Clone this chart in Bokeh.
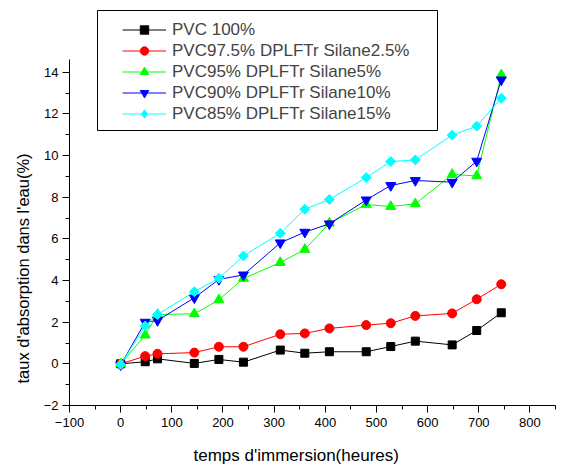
import numpy as np
from bokeh.plotting import figure
from bokeh.models import (Range1d, FixedTicker, Legend, LegendItem, BoxAnnotation, Title,
                          LinearAxis)
from bokeh.embed import file_html
from bokeh.resources import INLINE

hours = [0, 48, 72, 144, 192, 240, 312, 360, 408, 480, 528, 576, 648, 696, 744]
pvc100 = [0, 0.10, 0.24, 0.02, 0.21, 0.08, 0.66, 0.51, 0.58, 0.58, 0.83, 1.09, 0.91, 1.60, 2.45]
silane2_5 = [0, 0.37, 0.48, 0.54, 0.82, 0.82, 1.42, 1.46, 1.70, 1.86, 1.95, 2.30, 2.42, 3.10, 3.82]
silane5 = [0, 1.38, 2.37, 2.40, 3.07, 4.10, 4.86, 5.49, 6.75, 7.65, 7.55, 7.68, 9.09, 9.02, 13.87]
silane10 = [-0.05, 2.00, 2.08, 3.17, 4.05, 4.27, 5.81, 6.32, 6.72, 7.87, 8.56, 8.80, 8.72, 9.73, 13.63]
silane15 = [-0.03, 1.82, 2.37, 3.46, 4.11, 5.18, 6.27, 7.42, 7.89, 8.94, 9.71, 9.79, 10.98, 11.41, 12.75]

names = ["PVC 100%", "PVC97.5% DPLFTr Silane2.5%", "PVC95% DPLFTr Silane5%",
         "PVC90% DPLFTr Silane10%", "PVC85% DPLFTr Silane15%"]
series = [pvc100, silane2_5, silane5, silane10, silane15]
colors = ["#000000", "#FF0000", "#00FF00", "#0000FF", "#00FFFF"]
markers = ["square", "circle", "triangle", "inverted_triangle", "square"]
msizes = [8, 9, 10, 10, 7]
angles = [0, 0, 0, 0, np.pi / 4]
legend_markers = ["square", "circle", "triangle", "inverted_triangle", "diamond"]
legend_sizes = [8, 9, 10, 10, 12]

x_ticks = list(range(-100, 801, 100))
x_minor = list(range(-100, 851, 50))
y_ticks = list(range(-2, 15, 2))
y_minor = list(range(-2, 15, 1))

x_title = "temps d'immersion(heures)"
y_title = "taux d'absorption dans l'eau(%)"

FONT = "Liberation Sans"
LABEL_SIZE = "17px"

p = figure(width=563, height=470, output_backend="svg", toolbar_location=None,
           x_range=Range1d(-100, 850), y_range=Range1d(-2, 17.2),
           min_border_left=69, min_border_right=8, min_border_top=5, min_border_bottom=65)
p.outline_line_color = None
p.xgrid.visible = False
p.ygrid.visible = False
p.background_fill_color = "white"
p.border_fill_color = "white"

p.xaxis.ticker = FixedTicker(ticks=x_ticks, minor_ticks=x_minor)
p.yaxis.ticker = FixedTicker(ticks=y_ticks, minor_ticks=y_minor)
p.xaxis.bounds = (-100, 850)
p.yaxis.bounds = (-2, 14.6)
for ax in (p.xaxis, p.yaxis):
    ax.axis_line_color = "black"
    ax.axis_line_width = 1
    ax.major_tick_in = 0
    ax.major_tick_out = 7
    ax.minor_tick_in = 0
    ax.minor_tick_out = 4
    ax.major_tick_line_color = "black"
    ax.minor_tick_line_color = "black"
    ax.major_label_text_font = FONT
    ax.major_label_text_font_size = "13px"
    ax.major_label_text_color = "black"
p.xaxis.major_label_standoff = 5
p.yaxis.major_label_standoff = 4

# invisible spacer axis below the real x axis: one hidden tick, empty label
spacer = LinearAxis(ticker=FixedTicker(ticks=[0], minor_ticks=[]), axis_line_color=None,
                    major_tick_in=0, major_tick_out=15, minor_tick_in=0, minor_tick_out=0,
                    major_tick_line_color=None, minor_tick_line_color=None,
                    major_label_standoff=0, major_label_overrides={0: ""},
                    major_label_text_font_size="1px")
p.add_layout(spacer, "below")

# axis titles as side titles, so they can be shifted along the axis like the reference
xt = Title(text=x_title, align="left", offset=124, vertical_align="middle", standoff=0,
           text_font=FONT, text_font_size=LABEL_SIZE, text_font_style="normal",
           text_color="black")
yt = Title(text=y_title, align="left", offset=22, vertical_align="middle", standoff=16,
           text_font=FONT, text_font_size="16.5px", text_font_style="normal",
           text_color="black")
p.add_layout(xt, "below")
p.add_layout(yt, "left")

items = []
for name, ys, c, m, s, a, lm, ls in zip(names, series, colors, markers, msizes, angles,
                                        legend_markers, legend_sizes):
    lr = p.line(hours, ys, line_color=c, line_width=1)
    p.scatter(hours, ys, marker=m, size=s, angle=a, fill_color=c, line_color=c)
    key = p.scatter(hours, ys, marker=lm, size=ls, fill_color=c, line_color=c, visible=False)
    items.append(LegendItem(label=name, renderers=[lr, key]))

box = BoxAnnotation(left=97, right=437, top=10, bottom=130,
                    left_units="canvas", right_units="canvas",
                    top_units="canvas", bottom_units="canvas",
                    fill_color="white", fill_alpha=1.0,
                    line_color="black", line_width=1, line_alpha=1.0)
p.add_layout(box)

legend = Legend(items=items, location=(46, 274), padding=7, spacing=0,
                glyph_width=44, glyph_height=21, label_height=21, label_standoff=6,
                label_text_font=FONT, label_text_font_size=LABEL_SIZE,
                border_line_alpha=0, background_fill_alpha=0, margin=0,
                inactive_fill_alpha=0)
p.add_layout(legend)

open("out.html", "w").write(file_html(p, INLINE))
